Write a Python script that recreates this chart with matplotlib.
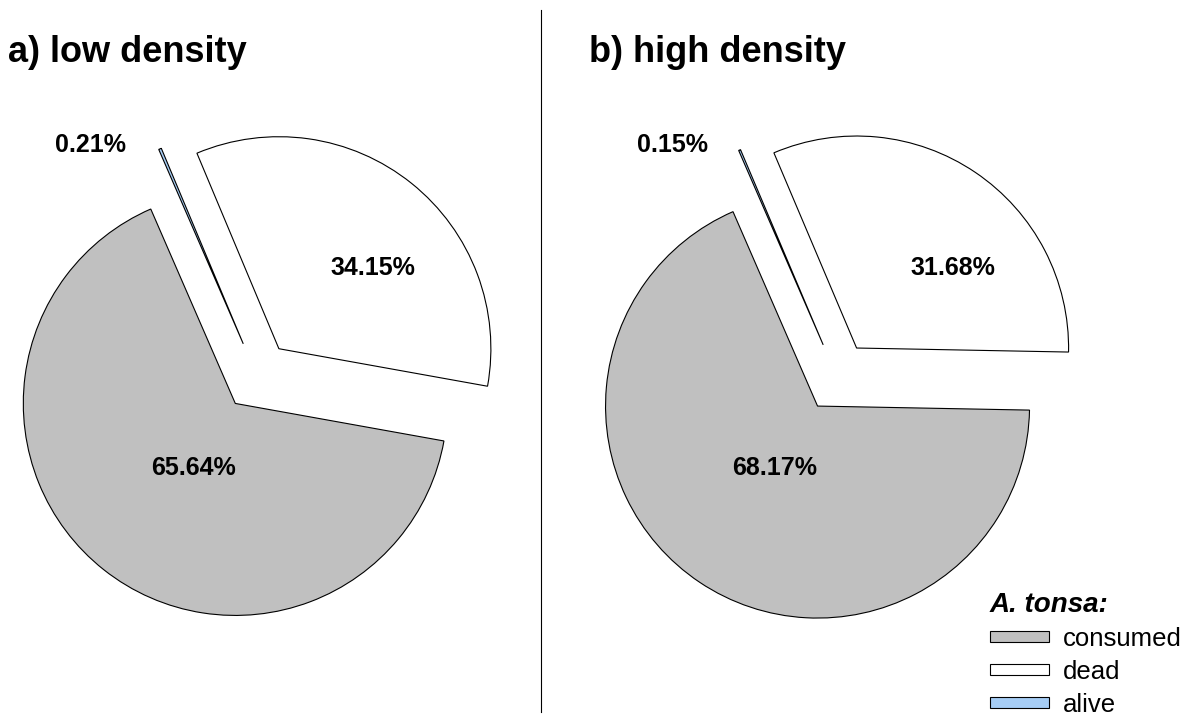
import matplotlib
matplotlib.use("Agg")
import matplotlib.pyplot as plt
from matplotlib.patches import Patch

plt.rcParams['font.family'] = ['Liberation Sans', 'DejaVu Sans']

# data: percentages per panel, drawn order alive, dead, consumed (clockwise)
categories = ['alive', 'dead', 'consumed']
low_density = [0.21, 34.15, 65.64]
high_density = [0.15, 31.68, 68.17]
titles = ['a) low density', 'b) high density']
colors = {'consumed': '#c0c0c0', 'dead': '#ffffff', 'alive': '#a6cdf5'}

W, H = 1194, 718
fig = plt.figure(figsize=(W / 100, H / 100), dpi=100)
ax = fig.add_axes([0, 0, 1, 1])

radius = 212
explode = 0.165 * radius   # pie explode is in data units
centers = [(257, H - 376), (837, H - 377)]
# label positions in pixels (x, y from top), order alive, dead, consumed
label_pos = [
    [(90, 145), (373, 268), (193, 468)],
    [(673, 145), (953, 268), (775, 468)],
]
title_pos = [(8, 62), (589, 62)]

for vals, c, lp, title, tp in zip([low_density, high_density], centers,
                                  label_pos, titles, title_pos):
    ax.pie(vals, colors=[colors[k] for k in categories],
           explode=[explode] * 3, startangle=113.5, counterclock=False,
           center=c, radius=radius, frame=True,
           wedgeprops=dict(edgecolor='black', linewidth=0.8))
    for v, (x, y) in zip(vals, lp):
        ax.text(x, H - y, f"{v:.2f}%", ha='center', va='center',
                fontsize=18, fontweight='bold')
    ax.text(tp[0], H - tp[1], title, ha='left', va='baseline',
            fontsize=26, fontweight='bold')

ax.plot([541, 541], [H - 10, H - 712], color='black', linewidth=0.8)

ax.set_xlim(0, W)
ax.set_ylim(0, H)
ax.set_aspect('auto')
ax.axis('off')

handles = [Patch(facecolor=colors[k], edgecolor='black', linewidth=0.8)
           for k in ['consumed', 'dead', 'alive']]
leg = fig.legend(handles, ['consumed', 'dead', 'alive'],
                 loc='lower left', bbox_to_anchor=(977 / W, -12 / H),
                 frameon=False, fontsize=18.5, handlelength=2.3,
                 handleheight=0.27, handletextpad=0.55, labelspacing=0.35,
                 borderpad=0.0, title='A. tonsa:', alignment='left',
                 title_fontproperties={'weight': 'bold', 'style': 'italic',
                                       'size': 20})

fig.savefig('out.png', dpi=100)
